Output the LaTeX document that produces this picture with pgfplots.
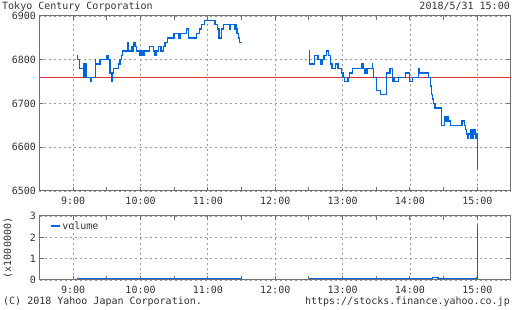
\documentclass[border=0pt]{standalone}
\usepackage{pgfplots}
\pgfplotsset{compat=1.18}
\usepackage{fontspec}
\setmainfont{DejaVu Sans Mono}
\definecolor{lineblue}{HTML}{0066DD}
\definecolor{refred}{HTML}{DD3333}
\definecolor{gridgray}{HTML}{9A9A9A}
\definecolor{axgray}{HTML}{707070}
\definecolor{txt}{HTML}{333333}
\begin{document}
\fontsize{10}{12}\selectfont
\begin{tikzpicture}
\useasboundingbox (0pt,0pt) rectangle (512pt,310pt);
\pgfplotsset{
 mystyle/.style={
  scale only axis, width=471.5pt,
  xmin=-30, xmax=390,
  xtick={0,60,...,360},
  xticklabels={9:00,10:00,11:00,12:00,13:00,14:00,15:00},
  minor xtick={30,90,150,210,270,330},
  tick align=inside,
  major tick length=4pt, minor tick length=4pt,
  xmajorgrids, ymajorgrids,
  grid style={gridgray, dash pattern=on 2pt off 3pt, line width=0.8pt},
  axis line style={axgray, line width=1pt},
  tick style={axgray, line width=1pt},
  ticklabel style={text=txt, font=\fontsize{10}{12}\selectfont},
  xticklabel style={yshift=-3pt},
  /pgf/number format/assume math mode=true,
 }}
\begin{axis}[mystyle, at={(39.5pt,119pt)}, anchor=south west, height=175pt,
  ymin=6500, ymax=6900, ytick={6500,6600,6700,6800,6900},
  yticklabels={6500,6600,6700,6800,6900}]
\addplot[refred, line width=1pt] coordinates {(-30,6760) (390,6760)};
\addplot[lineblue, line width=1.3pt, const plot, mark=none] coordinates {
(3.3,6810) (4.1,6800) (5.6,6780) (9.2,6760)
(9.6,6790) (10.0,6760) (10.4,6790) (10.8,6760) (11.2,6790) (11.6,6760)
(15.4,6750) (16.3,6760)
(19.6,6800) (20.1,6790) (24,6800) (30,6810) (31.4,6800) (32.9,6770)
(34.4,6750) (35.3,6770) (35.8,6780) (40.3,6790) (41.8,6800) (43.3,6810) (44.1,6820)
(48.3,6840) (49.2,6820) (52.2,6830) (52.8,6820) (53.6,6840) (55.1,6830) (56.6,6820)
(59,6810) (59.6,6820) (60.2,6810) (60.8,6820) (62,6810) (63.1,6820)
(67.8,6830) (71.4,6820) (72.9,6810) (74.4,6820) (75.8,6830) (78.2,6820)
(80.3,6830) (81.8,6840) (84.2,6850) (89.8,6860) (94.2,6850) (95.1,6860)
(101,6870) (102.5,6850) (110,6860) (112.3,6870) (114.4,6880) (116.7,6890)
(126.2,6880) (128.3,6870) (130,6850) (132.2,6870) (133.6,6880)
(139,6870) (140.2,6880) (144,6870) (144.6,6880) (145.2,6870)
(146,6860) (147.3,6850) (148.4,6840) (150,6840)
};
\addplot[lineblue, line width=1.3pt, const plot, mark=none] coordinates {
(210,6820) (210.7,6790) (215.1,6810) (218,6800) (220.2,6790) (221.6,6800)
(223.4,6810) (225.5,6820) (227.6,6810) (229.1,6790) (230.5,6780) (233.8,6790)
(235.8,6780) (238.8,6770) (240.3,6760) (241.8,6750) (244.7,6760) (246.2,6770)
(248.6,6780) (257.2,6790) (258.1,6780)
(259.6,6770) (260.5,6780) (261.3,6770) (262.2,6780)
(266.4,6790) (266.9,6780) (267.6,6760) (270.5,6730) (273.5,6720)
(278.9,6770) (282.1,6780) (284.7,6750) (285.3,6760) (286.2,6750)
(290,6760) (296,6770) (299.6,6750) (302,6760) (307.8,6780) (308.4,6770)
(316.7,6760) (318.2,6740) (319.4,6720) (320.3,6710) (321.2,6700)
(321.8,6690) (322.3,6700) (322.8,6690)
(327.9,6650) (330.7,6670) (331.3,6660) (331.9,6670) (332.5,6660) (333.1,6670)
(334,6660) (336,6650) (346.4,6660) (348.4,6650) (349.5,6640)
(350.5,6630) (351,6620) (351.6,6630)
(353.8,6620) (354.4,6640) (355,6620) (355.6,6640) (356.2,6620) (356.8,6640)
(357.4,6630) (358,6640) (358.6,6620) (359.2,6630)
(360,6550)
};
\end{axis}
\begin{axis}[mystyle, at={(39.5pt,30pt)}, anchor=south west, height=64pt,
  ymin=0, ymax=3, ytick={0,1,2,3},
  ylabel={(x1000000)},
  ylabel style={at={(axis description cs:-0.067,0.5)}, anchor=center, text=txt, font=\fontsize{10}{12}\selectfont},
  legend style={draw=none, fill=none, at={(axis description cs:0.022,0.95)}, anchor=north west,
     font=\fontsize{10}{12}\selectfont, text=txt, inner sep=0pt},
  legend image code/.code={\draw[#1] (0pt,0pt) -- (6pt,0pt); \path (0pt,0pt) -- (9pt,0pt);}]
\addplot[lineblue, line width=1.2pt, const plot, mark=none] coordinates {
(3,0.07) (10,0.06) (20,0.07) (30,0.06) (40,0.07) (50,0.06) (60,0.07) (70,0.06)
(80,0.07) (90,0.06) (100,0.07) (110,0.06) (120,0.07) (130,0.06) (140,0.07) (150,0.06)
};
\addlegendentry{volume}
\addplot[lineblue, line width=1.2pt, const plot, mark=none, forget plot] coordinates {
(210,0.07) (220,0.06) (230,0.07) (240,0.06) (250,0.07) (260,0.06) (270,0.07)
(280,0.06) (290,0.07) (300,0.06) (310,0.07) (320,0.1) (325,0.07) (330,0.06)
(340,0.07) (350,0.08) (359.5,0.1) (360,2.6)
};
\end{axis}
\node[anchor=base west, inner sep=0pt, text=txt] at (2pt,300.5pt) {Tokyo Century Corporation};
\node[anchor=base east, inner sep=0pt, text=txt] at (510pt,300.5pt) {2018/5/31 15:00};
\node[anchor=base west, inner sep=0pt, text=txt] at (3pt,5pt) {(C) 2018 Yahoo Japan Corporation.};
\node[anchor=base east, inner sep=0pt, text=txt] at (510pt,5pt) {https://stocks.finance.yahoo.co.jp};
\end{tikzpicture}
\end{document}
